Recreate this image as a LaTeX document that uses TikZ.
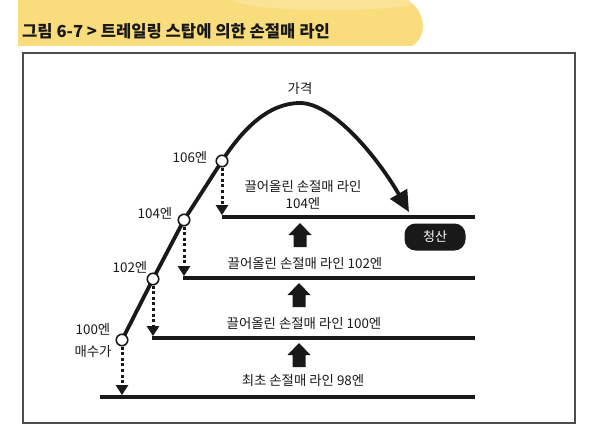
\documentclass[tikz,border=0pt]{standalone}
\usepackage{fontspec}
\setmainfont{Noto Sans CJK KR}
\usetikzlibrary{arrows.meta}
\definecolor{hlyellow}{RGB}{249,221,125}
\definecolor{inkc}{RGB}{25,25,25}
\begin{document}
\begin{tikzpicture}[x=1pt,y=-1pt,
  lbl/.style={font=\fontsize{13.4}{16}\selectfont, text=inkc, inner sep=0pt, align=center},
  stopline/.style={line width=3.8pt, draw=inkc},
  dotarrow/.style={line width=3pt, draw=inkc, dash pattern=on 3pt off 2.6pt, shorten >=1.9pt,
    -{Triangle[length=10pt,width=12pt]}},
  ptcircle/.style={circle, draw=inkc, fill=white, line width=1.6pt, minimum size=11.5pt, inner sep=0pt},
  pricecurve/.style={line width=3.8pt, draw=inkc, line join=round, -{Triangle[length=21pt,width=19pt]}},
  blockarrow/.style={fill=inkc},
  exitbox/.style={fill=inkc, text=white, rounded corners=11pt, minimum width=61pt,
    minimum height=27pt, inner sep=0pt, font=\fontsize{13}{15}\selectfont},
  frame/.style={draw=black!70, line width=1.2pt}
]
\useasboundingbox (0,0) rectangle (600,441);
\fill[white] (0,0) rectangle (600,441);
% title highlight
\fill[hlyellow] (18,0) -- (408,0) .. controls (426,12) and (428,36) .. (412,46) -- (18,46) -- cycle;
\fill[white, opacity=0.2] (330,0) ellipse [x radius=95pt, y radius=10pt];
\node[anchor=west, inner sep=0pt, text=inkc, font=\fontsize{16.6}{19}\selectfont\bfseries] (title) at (22,31)
  {그림 6-7 > 트레일링 스탑에 의한 손절매 라인};
% frame
\draw[frame] (23,53) rectangle (575,423);

% stop lines
\coordinate (l98a) at (100,397);  \coordinate (l98b) at (475,397);
\coordinate (l100a) at (152,338); \coordinate (l100b) at (475,338);
\coordinate (l102a) at (183,278); \coordinate (l102b) at (475,278);
\coordinate (l104a) at (222,217); \coordinate (l104b) at (475,217);
\draw[stopline] (l98a) -- (l98b);
\draw[stopline] (l100a) -- (l100b);
\draw[stopline] (l102a) -- (l102b);
\draw[stopline] (l104a) -- (l104b);

% price path points
\coordinate (c100) at (122,340);
\coordinate (c102) at (153,279);
\coordinate (c104) at (184,220);
\coordinate (c106) at (222,161);
\coordinate (peak) at (300,103);
\coordinate (tip) at (409,212);
\draw[pricecurve] (c100) -- (c102) -- (c104) -- (c106)
  .. controls (242,130) and (268,103) .. (peak)
  .. controls (333,103) and (378,158) .. (tip);

\node[ptcircle] (p100) at (c100) {};
\node[ptcircle] (p102) at (c102) {};
\node[ptcircle] (p104) at (c104) {};
\node[ptcircle] (p106) at (c106) {};

% dotted arrows
\draw[dotarrow] (p100.south) -- (p100 |- l98a);
\draw[dotarrow] (p102.south) -- (p102 |- l100a);
\draw[dotarrow] (p104.south) -- (p104 |- l102a);
\draw[dotarrow] (p106.south) -- (p106 |- l104a);

% block arrows (base points)
\coordinate (u1) at (299,367);
\coordinate (u2) at (299,307);
\coordinate (u3) at (300,247);
\foreach \u in {u1,u2,u3}
  \fill[blockarrow, shift={(\u)}] (-6.5,0) -- (-6.5,-12) -- (-11.5,-12) -- (0,-24) -- (11.5,-12) -- (6.5,-12) -- (6.5,0) -- cycle;

% labels
\node[lbl] (tprice) at (300,88) {가격};
\node[lbl] (t106) at (190,157) {106엔};
\node[lbl] (t104) at (155,213) {104엔};
\node[lbl] (t102) at (130,267) {102엔};
\node[lbl, font=\fontsize{13.4}{22}\selectfont] (t100) at (93,340) {100엔\\매수가};
\node[lbl, font=\fontsize{13.4}{16.5}\selectfont] (s104) at (303,195) {끌어올린 손절매 라인\\104엔};
\node[lbl] (s102) at (305,263) {끌어올린 손절매 라인 102엔};
\node[lbl] (s100) at (304,323) {끌어올린 손절매 라인 100엔};
\node[lbl] (s98) at (303,380) {최초 손절매 라인 98엔};
\node[exitbox] (exit) at (435,237) {청산};
\end{tikzpicture}
\end{document}
